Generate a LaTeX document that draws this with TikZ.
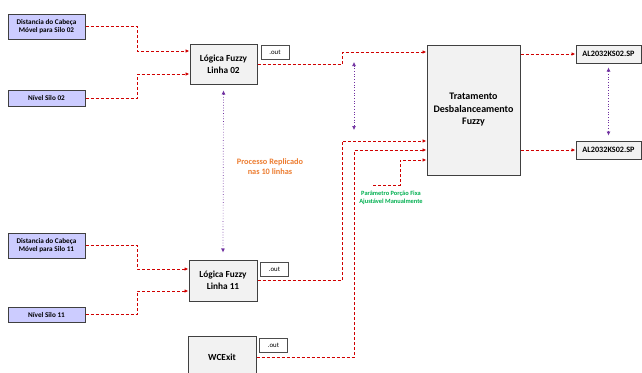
\documentclass[tikz,border=0pt]{standalone}
\usepackage{fontspec}
\setmainfont{Carlito}
\usetikzlibrary{arrows.meta,calc}
\definecolor{cred}{HTML}{D00000}
\definecolor{cpurp}{HTML}{7030A0}
\definecolor{corange}{HTML}{ED7D31}
\definecolor{cgreen}{HTML}{00B050}
\definecolor{clav}{HTML}{CCCCFF}
\definecolor{cgray}{HTML}{F2F2F2}
\tikzset{
  box/.style={draw=black!75, line width=1pt, rectangle, inner sep=0pt, align=center, font=\bfseries},
  inbox/.style={box, fill=clav, minimum width=77pt, font=\bfseries\fontsize{7.2}{8.8}\selectfont},
  fbox/.style={box, fill=cgray, font=\bfseries\fontsize{9.3}{12}\selectfont},
  tbox/.style={box, fill=cgray, font=\bfseries\fontsize{10}{12.5}\selectfont},
  outbox/.style={draw=black!70, line width=0.6pt, fill=white, inner sep=0pt, minimum width=28pt, minimum height=14pt, font=\fontsize{6.8}{8}\selectfont},
  albox/.style={box, fill=cgray, minimum width=65pt, minimum height=18pt, font=\bfseries\fontsize{8.2}{9}\selectfont},
  conn/.style={draw=cred, line width=0.9pt, dash pattern=on 3pt off 2pt, -{Latex[length=4pt,width=3.5pt]}},
  purp/.style={draw=cpurp, line width=0.7pt, dotted, {Latex[length=4pt,width=4pt]}-{Latex[length=4pt,width=4pt]}}
}
\begin{document}
\begin{tikzpicture}[x=1pt,y=-1pt]
\clip (0,0) rectangle (642,372);
\fill[white] (0,0) rectangle (642,372);
% inputs
\node[inbox, minimum height=25pt] (d02) at (46.5,26.5) {Distancia do Cabeça\\Móvel para Silo 02};
\node[inbox, minimum height=16pt] (n02) at (46.5,98) {Nível Silo 02};
\node[inbox, minimum height=25pt] (d11) at (46.5,245.5) {Distancia do Cabeça\\Móvel para Silo 11};
\node[inbox, minimum height=15pt] (n11) at (46.5,314.5) {Nível Silo 11};
% fuzzy
\node[fbox, minimum width=67pt, minimum height=40pt] (lf02) at (223.5,64) {Lógica Fuzzy\\Linha 02};
\node[fbox, minimum width=68pt, minimum height=41pt] (lf11) at (223,280.5) {Lógica Fuzzy\\Linha 11};
\node[fbox, minimum width=68pt, minimum height=42pt] (wc) at (222,357) {WCExit};
\node[outbox] (o1) at (275,52) {.out};
\node[outbox] (o2) at (274.5,269) {.out};
\node[outbox] (o3) at (273.5,345) {.out};
% tratamento
\node[tbox, minimum width=93pt, minimum height=130pt] (trat) at (473.5,110) {Tratamento\\Desbalanceamento\\Fuzzy};
\node[albox] (al1) at (608.5,54) {AL2032KS02.SP};
\node[albox] (al2) at (608.5,150) {AL2032KS02.SP};
% texts
\node[font=\bfseries\fontsize{8.3}{10}\selectfont, text=corange, align=center] (rep) at (270,167) {Processo Replicado\\nas 10 linhas};
\node[font=\bfseries\fontsize{6.4}{7.8}\selectfont, text=cgreen, align=center] (par) at (391,198) {Parâmetro Porção Fixa\\Ajustável Manualmente};
% connectors inputs
\draw[conn] (d02.east) -| (137,51) -- (lf02.west |- 137,51);
\draw[conn] (n02.east) -| (137,74) -- (lf02.west |- 137,74);
\draw[conn] (d11.east) -| (137,269) -- (lf11.west |- 137,269);
\draw[conn] (n11.east) -| (137,291) -- (lf11.west |- 137,291);
% to tratamento
\draw[conn] (lf02.east) -| (342,52) -- (trat.west |- 342,52);
\draw[conn] (lf11.east) -| (342,141) -- (trat.west |- 342,141);
\draw[conn] (wc.east) -| (354,150) -- (trat.west |- 354,150);
\coordinate (p) at (373,185);
\draw[conn] (p) -| (400,160) -- (trat.west |- 400,160);
% outputs
\draw[conn] (trat.east |- al1.west) -- (al1.west);
\draw[conn] (trat.east |- al2.west) -- (al2.west);
% purple
\draw[purp] ([yshift=-6pt]lf02.south) -- ([yshift=7pt]lf11.north);
\coordinate (m1) at (354,62);
\coordinate (m2) at (354,130);
\draw[purp] (m1) -- (m2);
\draw[purp] ([yshift=-4pt]al1.south) -- ([yshift=5pt]al2.north);
\end{tikzpicture}
\end{document}
